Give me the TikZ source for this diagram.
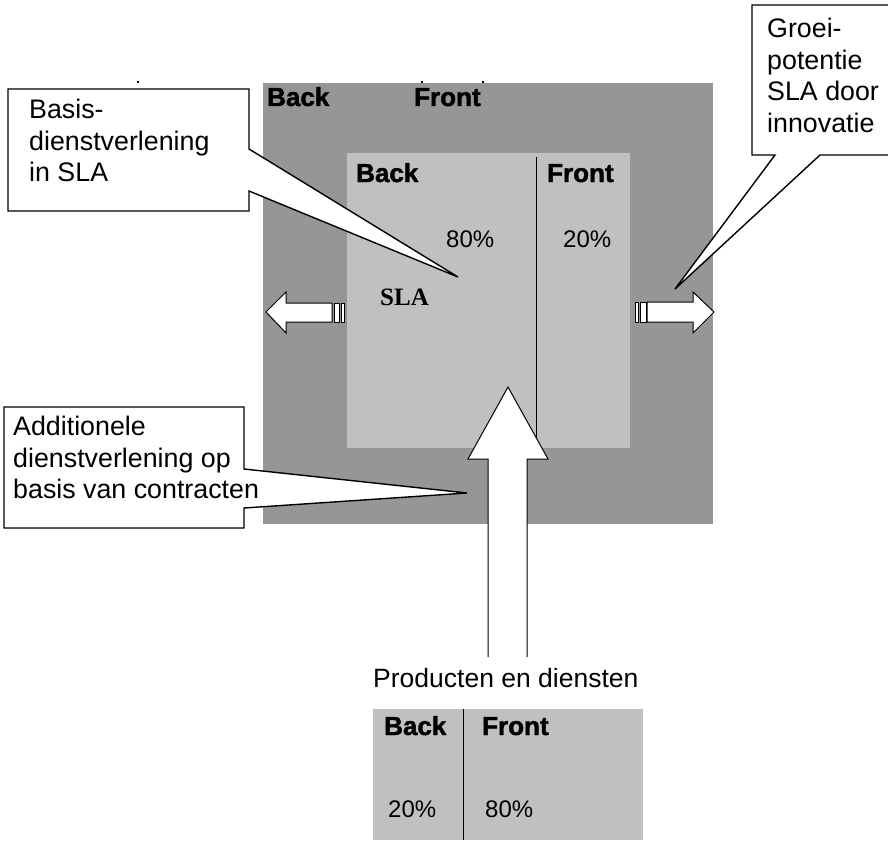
\documentclass[tikz,border=0pt]{standalone}
\usepackage{fontspec}
\setmainfont{Liberation Sans}
\newfontfamily\slafont{Liberation Serif}
\newfontfamily\blackfont[BoldFeatures={FakeBold=1.6}]{Liberation Sans}
\definecolor{outergray}{RGB}{150,150,150}
\definecolor{innergray}{RGB}{192,192,192}

\begin{document}
\begin{tikzpicture}[x=1pt,y=-1pt,
    calltext/.style={anchor=north west,align=left,inner sep=0pt,font=\fontsize{26.8}{31.5}\selectfont},
    colhead/.style={anchor=base west,inner sep=0pt,font=\fontsize{26}{30}\blackfont\bfseries},
    pct/.style={anchor=base west,inner sep=0pt,font=\fontsize{24}{28}\selectfont},
    callout/.style={draw=black,line width=1.4pt,fill=white},
    blockarrow/.style={draw=black,line width=1pt,fill=white}]
\useasboundingbox (0,0) rectangle (888,840);
\clip (0,0) rectangle (888,840);

\fill[outergray] (263,83) rectangle (713,524);
\fill[innergray] (347,153) rectangle (630,448);
\draw[line width=0.8pt] (536,157) -- (536,448);

\fill (137,81) rectangle (139,83);
\fill (421,81) rectangle (423,83);
\fill (482,81) rectangle (484,83);
\fill (752,151) rectangle (754,153);

\node[colhead] (outerback) at (267,106) {Back};
\node[colhead] (outerfront) at (414,106) {Front};
\node[colhead] (innerback) at (356,182) {Back};
\node[colhead] (innerfront) at (547,182) {Front};
\node[pct] (backpct) at (446,247) {80\%};
\node[pct] (frontpct) at (563,247) {20\%};
\node[anchor=base west,inner sep=0pt,font=\fontsize{25}{30}\slafont\bfseries] (sla) at (380,305) {SLA};

\path[callout] (8,89) -- (249,89) -- (249,149) -- (458,277) -- (249,191) -- (249,211) -- (8,211) -- cycle;
\node[calltext] (basis) at (29,99) {Basis-\\dienstverlening\\in SLA};

\path[callout] (752,5) -- (900,5) -- (900,155) -- (820,155) -- (675,289) -- (775,155) -- (752,155) -- cycle;
\node[calltext] (groei) at (767,18) {Groei-\\potentie\\SLA door\\innovatie};

\path[callout] (4,407) -- (244,407) -- (244,469) -- (467,493) -- (244,508) -- (244,528) -- (4,528) -- cycle;
\node[calltext] (additioneel) at (13,416) {Additionele\\dienstverlening op\\basis van contracten};

\path[blockarrow] (266,312) -- (286,292) -- (286,303) -- (332,303) -- (332,322) -- (286,322) -- (286,333) -- cycle;
\path[blockarrow] (334,303) rectangle (339,322);
\path[blockarrow] (341,303) rectangle (344,322);

\path[blockarrow] (714,312) -- (693,292) -- (693,302) -- (647,302) -- (647,322) -- (693,322) -- (693,333) -- cycle;
\path[blockarrow] (640,302) rectangle (646,322);
\path[blockarrow] (635,302) rectangle (638,322);

\path[blockarrow] (488,657) -- (488,459) -- (468,459) -- (508,387) -- (548,459) -- (527,459) -- (527,657);

\node[anchor=base west,inner sep=0pt,font=\fontsize{26.5}{30}\selectfont] (producten) at (373,687) {Producten en diensten};

\fill[innergray] (373,709) rectangle (643,840);
\draw[line width=0.8pt] (463,709) -- (463,840);
\node[colhead] (lowerback) at (384,735) {Back};
\node[colhead] (lowerfront) at (482,735) {Front};
\node[pct] (lowerbackpct) at (388,817) {20\%};
\node[pct] (lowerfrontpct) at (485,817) {80\%};
\end{tikzpicture}
\end{document}
